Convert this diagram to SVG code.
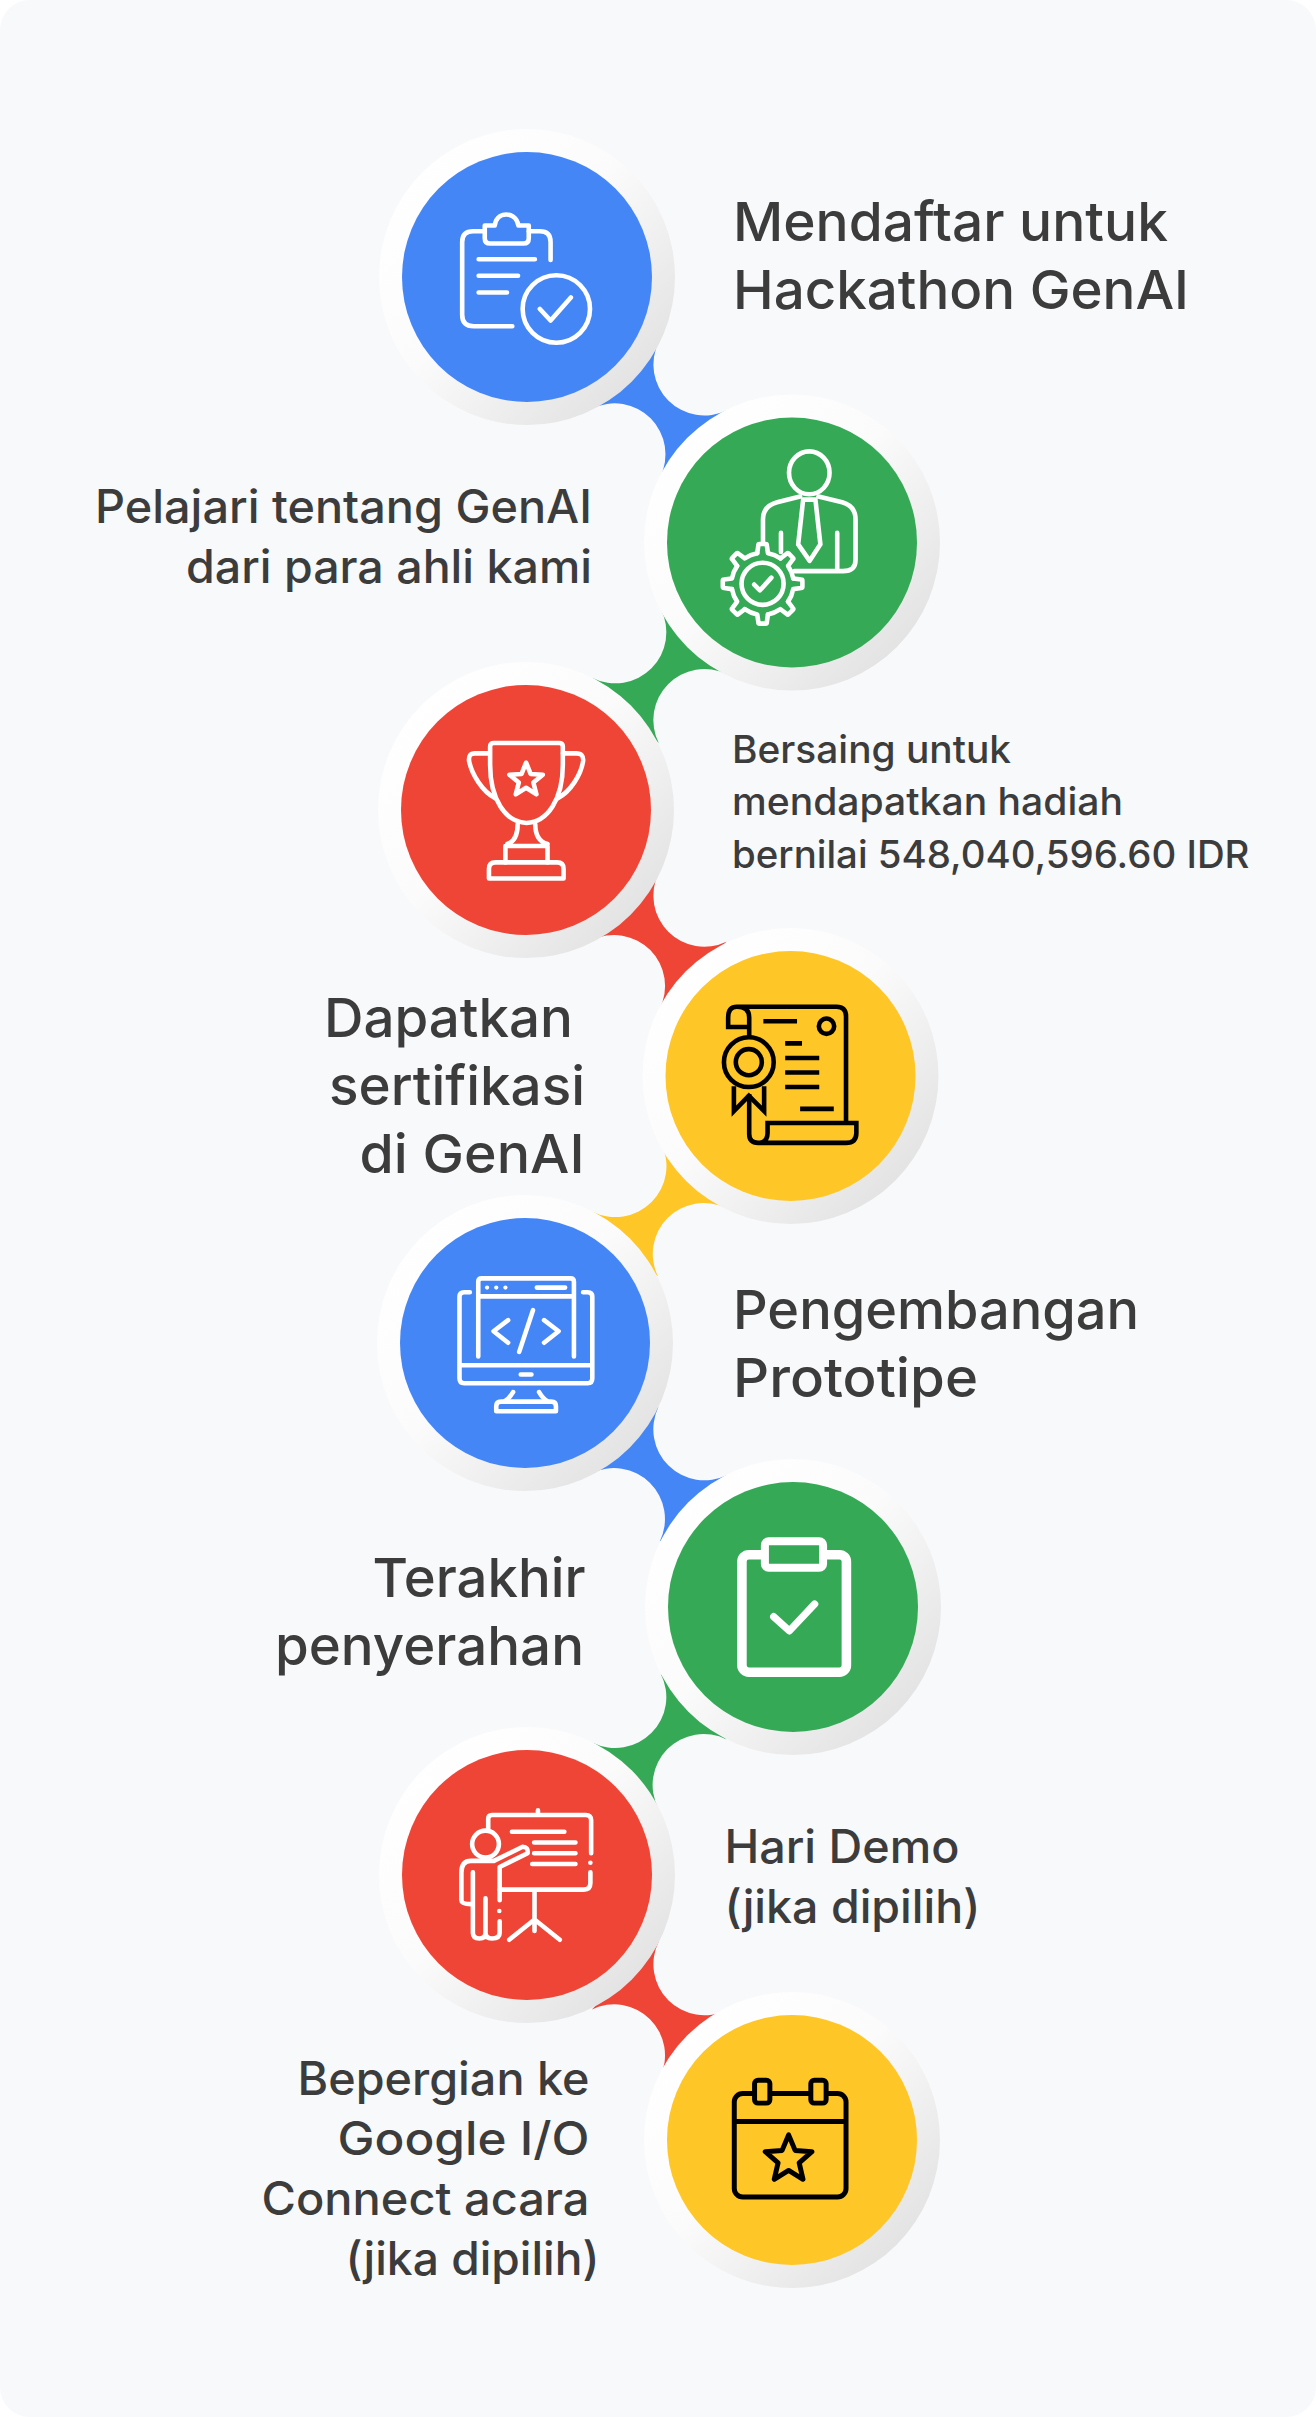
<svg xmlns="http://www.w3.org/2000/svg" xmlns:xlink="http://www.w3.org/1999/xlink" width="1316" height="2417" viewBox="0 0 1316 2417">
<style>
text{font-family:"Inter","Noto Sans","Liberation Sans",sans-serif;fill:#3c3c3c;font-weight:500}
.xl{font-size:54px}.l{font-size:46px}.m{font-size:38px}
.e{text-anchor:end}
.w,.k{fill:none;stroke-linecap:round;stroke-linejoin:round}
.w{stroke:#fff;stroke-width:12}
.k{stroke:#000;stroke-width:12;stroke-linecap:butt;stroke-linejoin:miter}
.ring{fill:url(#rg)}
.blue{fill:#4586f6}.green{fill:#36a957}.red{fill:#ee4537}.yellow{fill:#ffc627}
</style>
<defs>
<linearGradient id="rg" x1="0.12" y1="0.12" x2="0.88" y2="0.88">
<stop offset="0" stop-color="#ffffff"/><stop offset="0.45" stop-color="#fbfbfb"/><stop offset="1" stop-color="#e2e2e2"/>
</linearGradient>
<path id="gs" d="M-14-80 L-11-101 Q-11-104-8-104 H8 Q11-104 11-101 L14-80 A81.2 81.2 0 0 1 46.7-66.4"/>
</defs>
<rect width="1316" height="2417" rx="30" fill="#f8f9fb"/>
<g id="connectors">
<path class="blue" d="M658.7 341.9A51 51 0 0 0 726.9 410.3L660.2 477A51 51 0 0 0 592 408.6Z"/>
<path class="green" d="M726.9 674.3A51 51 0 0 0 658.8 743L592.4 677.9A51 51 0 0 0 660.8 609.2Z"/>
<path class="red" d="M658.4 873.6A51 51 0 0 0 726.4 941.7L659.5 1009.2A51 51 0 0 0 591.2 940.4Z"/>
<path class="yellow" d="M726 1208A51 51 0 0 0 658.1 1276.6L592.1 1211.4A51 51 0 0 0 660.7 1142.5Z"/>
<path class="blue" d="M658.4 1407.1A51 51 0 0 0 727.1 1474.9L659.8 1541.4A51 51 0 0 0 591 1473.5Z"/>
<path class="green" d="M726.5 1739.4A51 51 0 0 0 658.2 1808.2L592.7 1742.7A51 51 0 0 0 660.8 1673.9Z"/>
<path class="red" d="M658.8 1941.4A51 51 0 0 0 727.1 2009.9L660.1 2077.2A51 51 0 0 0 591.9 2009.4Z"/>
</g>
<g id="node1">
<circle class="ring" cx="527" cy="277" r="148"/><circle class="blue" cx="527" cy="277" r="125"/>
<g transform="translate(360,110) scale(.3827)">
<path class="w" d="M498 392V345Q498 317 470 317H441M326 317H296Q267 317 267 345V535Q267 565 297 565H398"/>
<path class="w" d="M326 302H352C356 275 375 273 382 273C392 273 410 278 414 302H441V335Q441 349 427 349H340Q326 349 326 335Z"/>
<path class="w" d="M310 390H457M310 433H413M310 477H384M470 520L498 550L551 490"/>
<circle class="w" cx="513" cy="520" r="88"/>
</g>
<text class="xl" x="733" y="240.7" textLength="435" lengthAdjust="spacingAndGlyphs">Mendaftar untuk</text>
<text class="xl" x="733" y="308.7" textLength="456" lengthAdjust="spacingAndGlyphs">Hackathon GenAI</text>
</g>
<g id="node2">
<circle class="ring" cx="792" cy="542.5" r="148"/><circle class="green" cx="792" cy="542.5" r="125"/>
<g transform="translate(360,110) scale(.3827)">
<ellipse class="w" cx="1174" cy="948" rx="53" ry="56"/>
<path class="w" d="M1150 1010L1090 1025Q1053 1035 1053 1070V1130M1198 1010L1260 1025Q1295 1035 1295 1070V1175Q1295 1205 1262 1205H1135M1158 1018H1190M1158 1018L1145 1135L1175 1178L1203 1135L1190 1018M1100 1105V1155M1247 1105V1205M1030 1240L1045 1255L1075 1222"/>
<circle class="w" cx="1052" cy="1238" r="55"/>
<g class="w" transform="translate(1052,1238)">
<use xlink:href="#gs" href="#gs"/><use xlink:href="#gs" href="#gs" transform="rotate(45)"/><use xlink:href="#gs" href="#gs" transform="rotate(90)"/><use xlink:href="#gs" href="#gs" transform="rotate(135)"/><use xlink:href="#gs" href="#gs" transform="rotate(180)"/><use xlink:href="#gs" href="#gs" transform="rotate(225)"/><use xlink:href="#gs" href="#gs" transform="rotate(270)"/><use xlink:href="#gs" href="#gs" transform="rotate(315)"/>
</g>
</g>
<text class="l e" x="592" y="523.3" textLength="497" lengthAdjust="spacingAndGlyphs">Pelajari tentang GenAI</text>
<text class="l e" x="592" y="583.3" textLength="406" lengthAdjust="spacingAndGlyphs">dari para ahli kami</text>
</g>
<g id="node3">
<circle class="ring" cx="526" cy="810" r="148"/><circle class="red" cx="526" cy="810" r="125"/>
<g transform="translate(360,650) scale(.3827)">
<path class="w" d="M340 252Q340 243 350 243H520Q530 243 530 252V300C530 390 490 450 435 452C380 450 340 390 340 300Z"/>
<path class="w" d="M338 270H300Q283 270 285 290C292 325 320 370 353 387M530 270H565Q585 270 583 290C578 325 550 370 517 387M412 455C412 480 405 500 385 507M458 455C458 480 465 500 490 507M380 555V512H490V555"/>
<path class="w" d="M337 597V572Q337 555 354 555H515Q532 555 532 572V597Z"/>
<path class="w" d="M434 294L445.8 323.8L477.7 325.8L453 346.2L461 377.2L434 360L407 377.2L415 346.2L390.3 325.8L422.2 323.8Z"/>
</g>
<text class="m" x="732" y="763.3" textLength="279" lengthAdjust="spacingAndGlyphs">Bersaing untuk</text>
<text class="m" x="732" y="815.3" textLength="391" lengthAdjust="spacingAndGlyphs">mendapatkan hadiah</text>
<text class="m" x="732" y="867.7" textLength="517.5" lengthAdjust="spacingAndGlyphs">bernilai 548,040,596.60 IDR</text>
</g>
<g id="node4">
<circle class="ring" cx="790.5" cy="1076" r="148"/><circle class="yellow" cx="790.5" cy="1076" r="125"/>
<g transform="translate(360,650) scale(.3827)">
<path class="k" d="M985 932H1245Q1270 932 1270 957V1237M985 932Q962 932 962 960V985H1017V960Q1017 932 985 932M1017 985V1012M1017 1160V1265Q1017 1288 1040 1288H1270Q1297 1288 1297 1262V1236H1065V1262Q1065 1288 1040 1288"/>
<circle class="k" cx="1016" cy="1077" r="65"/><circle class="k" cx="1016" cy="1077" r="34"/>
<path class="k" d="M977 1140V1205L1016 1165L1056 1205V1140M1054 970H1142M1111 1028H1155M1111 1066H1200M1111 1104H1200M1111 1142H1200M1150 1199H1238"/>
<circle class="k" cx="1219" cy="983" r="20"/>
</g>
<text class="xl e" x="573" y="1036.7" textLength="249" lengthAdjust="spacingAndGlyphs">Dapatkan</text>
<text class="xl e" x="585" y="1104.7" textLength="256" lengthAdjust="spacingAndGlyphs">sertifikasi</text>
<text class="xl e" x="584.5" y="1172.7" textLength="225" lengthAdjust="spacingAndGlyphs">di GenAI</text>
</g>
<g id="node5">
<circle class="ring" cx="525" cy="1343" r="148"/><circle class="blue" cx="525" cy="1343" r="125"/>
<g transform="translate(360,1190) scale(.3827)">
<path class="w" d="M309 435V240Q309 231 318 231H550Q559 231 559 240V435M309 278H559M462 255H536M387 340L349 369L387 399M481 340L519 369L481 399M452 314L416 423M287 267H272Q260 267 260 279V492Q260 505 272 505H595Q607 505 607 492V279Q607 267 595 267H583M260 458H607M420 482H448M400 528Q390 545 378 552M468 528Q478 545 490 552"/>
<path class="w" d="M356 578V565Q356 553 368 553H500Q512 553 512 565V578Z"/>
<circle fill="#fff" cx="332" cy="255" r="5.5"/><circle fill="#fff" cx="356" cy="255" r="5.5"/><circle fill="#fff" cx="380" cy="255" r="5.5"/>
</g>
<text class="xl" x="733" y="1328.5" textLength="406" lengthAdjust="spacingAndGlyphs">Pengembangan</text>
<text class="xl" x="733" y="1396.7" textLength="245" lengthAdjust="spacingAndGlyphs">Prototipe</text>
</g>
<g id="node6">
<circle class="ring" cx="793" cy="1607" r="148"/><circle class="green" cx="793" cy="1607" r="125"/>
<g transform="translate(360,1190) scale(.3827)">
<rect x="998" y="953" width="273" height="307" rx="18" fill="none" stroke="#fff" stroke-width="25"/>
<rect class="green" x="1058" y="918" width="152" height="69" rx="10" stroke="#fff" stroke-width="21"/>
<path class="w" style="stroke-width:19" d="M1081 1115L1122 1152L1188 1082"/>
</g>
<text class="xl e" x="585.5" y="1596.8" textLength="213" lengthAdjust="spacingAndGlyphs">Terakhir</text>
<text class="xl e" x="584" y="1664.5" textLength="309" lengthAdjust="spacingAndGlyphs">penyerahan</text>
</g>
<g id="node7">
<circle class="ring" cx="527" cy="1875" r="148"/><circle class="red" cx="527" cy="1875" r="125"/>
<g transform="translate(360,1730) scale(.3827)">
<path class="w" d="M335 262V232Q335 222 345 222H590Q604 222 604 236V322M602 372V400Q602 417 585 417H365M465 210V222M456 420V525M390 548L456 495L522 548M397 266H534M455 294H563M455 322H563M450 350H563"/>
<circle class="w" cx="328" cy="298" r="35"/>
<path class="w" d="M350 342L425 305Q440 305 438 322L365 358V445M350 342H290Q265 342 265 372V445Q265 455 290 455M295 372V530Q295 545 312 545Q328 545 328 530V440M328 530Q328 545 345 545Q365 545 365 530V500"/>
<circle fill="#fff" cx="602" cy="347" r="6"/><circle fill="#fff" cx="364" cy="473" r="6"/>
</g>
<text class="l" x="724.4" y="1863" textLength="235" lengthAdjust="spacingAndGlyphs">Hari Demo</text>
<text class="l" x="724.4" y="1923" textLength="256" lengthAdjust="spacingAndGlyphs">(jika dipilih)</text>
</g>
<g id="node8">
<circle class="ring" cx="792" cy="2140" r="148"/><circle class="yellow" cx="792" cy="2140" r="125"/>
<g transform="translate(360,1730) scale(.3827)">
<rect x="978" y="950" width="292" height="270" rx="22" fill="none" stroke="#000" stroke-width="13"/>
<path class="k" style="stroke-width:13" d="M978 1023H1270"/>
<rect class="yellow" x="1031" y="915" width="40" height="60" rx="9" stroke="#000" stroke-width="13"/>
<rect class="yellow" x="1178" y="915" width="40" height="60" rx="9" stroke="#000" stroke-width="13"/>
<path class="k" style="stroke-width:13;stroke-linejoin:round" d="M1120 1058L1137 1098.5L1181 1102L1147.6 1131L1157.6 1174L1120 1151L1082.4 1174L1092.4 1131L1059 1102L1103 1098.5Z"/>
</g>
<text class="l e" x="589.5" y="2095" textLength="292" lengthAdjust="spacingAndGlyphs">Bepergian ke</text>
<text class="l e" x="589.5" y="2155" textLength="252" lengthAdjust="spacingAndGlyphs">Google I/O</text>
<text class="l e" x="589.5" y="2215.3" textLength="328" lengthAdjust="spacingAndGlyphs">Connect acara</text>
<text class="l e" x="599.5" y="2275" textLength="254" lengthAdjust="spacingAndGlyphs">(jika dipilih)</text>
</g>
</svg>
